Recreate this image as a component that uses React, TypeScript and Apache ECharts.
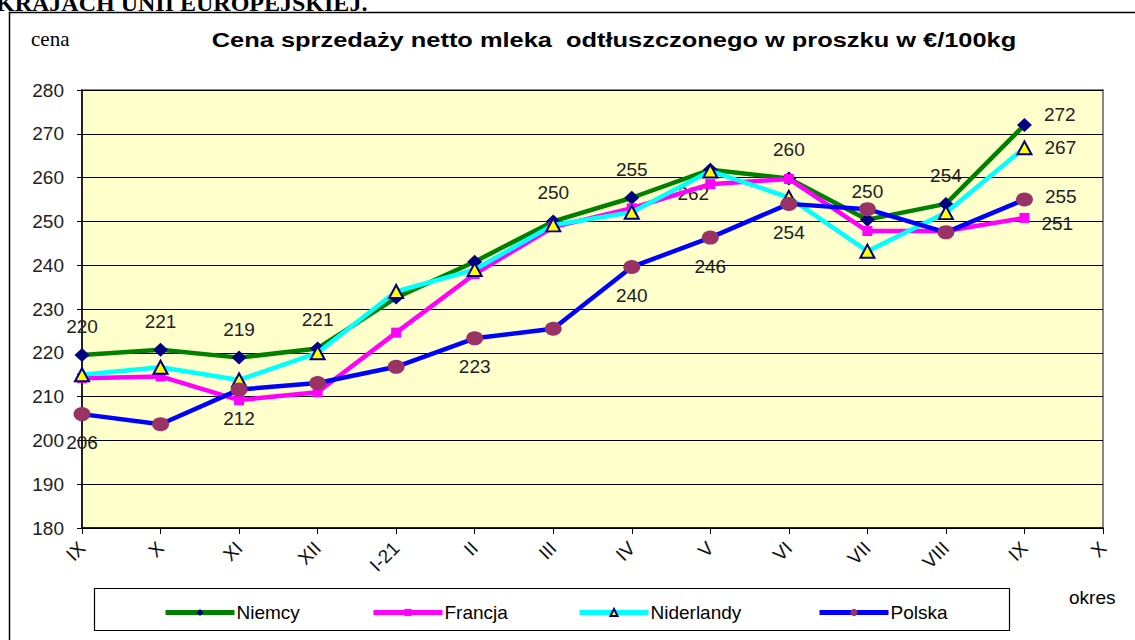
import React, { useEffect, useRef } from "react";
import * as echarts from "echarts";

const categories = ["IX", "X", "XI", "XII", "I-21", "II", "III", "IV", "V", "VI", "VII", "VIII", "IX", "X"];
const niemcy = [219.5, 220.7, 218.9, 221, 232.6, 240.8, 250, 255.4, 261.8, 259.8, 250.4, 254, 272];
const francja = [214.2, 214.6, 209.2, 211, 224.6, 238, 248.7, 253, 258.5, 259.7, 247.8, 247.8, 250.8];
const niderlandy = [215, 216.7, 213.8, 220, 234, 239, 249.2, 252.1, 261.5, 255.5, 243.2, 252, 266.8];
const polska = [206, 203.7, 211.6, 213.1, 216.8, 223.3, 225.5, 239.6, 246.3, 254, 252.8, 247.5, 255];
const seriesNames = ["Niemcy", "Francja", "Niderlandy", "Polska"];
const yTicks = { min: 180, max: 280, interval: 10 };
const titleText = "Cena sprzedaży netto mleka  odtłuszczonego w proszku w €/100kg";
const headerText = "KRAJACH UNII EUROPEJSKIEJ.";

// label placements: "t" above, "b" below, "bl" below-left, "r" right, "" none
const niemcyLabels = ["t", "t", "t", "t", "", "", "t", "t", "bl", "t", "t", "t", "r"];
const francjaLabels = ["", "", "", "", "", "", "", "", "", "", "", "", "r"];
const niderlandyLabels = ["", "", "", "", "", "", "", "", "", "", "", "", "r"];
const polskaLabels = ["b", "", "b", "", "", "b", "", "b", "b", "b", "", "", "r"];
const rightOffsets: Record<string, number> = { Niemcy: -11, Francja: 6, Niderlandy: 0, Polska: -3 };
const legendLefts = [158, 366, 572, 812];

const labelFont = { fontFamily: "Liberation Sans, Arial", fontSize: 19, color: "#222" };

function mkData(values: number[], places: string[], name: string) {
  return values.map((v, i) => {
    const p = places[i];
    if (!p) return { value: v, label: { show: false } };
    let label: any = { show: true, ...labelFont, formatter: (o: any) => String(Math.round(o.value)) };
    if (p === "t") label = { ...label, position: "top", distance: 12 };
    if (p === "b") label = { ...label, position: "bottom", distance: 12 };
    if (p === "bl") label = { ...label, position: "bottom", distance: 7, offset: [-17, 0] };
    if (p === "r") label = { ...label, position: "right", distance: 12, offset: [0, rightOffsets[name]] };
    return { value: v, label };
  });
}

export default function App() {
  const ref = useRef<HTMLDivElement>(null);
  useEffect(() => {
    document.body.style.margin = "0";
    const chart = echarts.init(ref.current!, null, { renderer: "svg" });
    chart.setOption({
      animation: false,
      backgroundColor: "#ffffff",
      textStyle: { fontFamily: "Liberation Sans, Arial" },
      grid: { left: 82, top: 90, width: 1021, height: 438, show: true, backgroundColor: "#FFFFCC", borderColor: "#888", borderWidth: 2 },
      graphic: [
        { type: "rect", shape: { x: 9.5, y: 12.5, width: 1200, height: 700 }, style: { fill: "none", stroke: "#000", lineWidth: 1.5 }, z: -1 },
        { type: "text", x: -4, y: 15, style: { text: headerText, font: 'bold 24px "Liberation Serif", serif', fill: "#000", verticalAlign: "bottom" } },
        { type: "text", x: 31, y: 39, style: { text: "cena", font: '21px "Liberation Serif", serif', fill: "#000", verticalAlign: "middle" } },
        { type: "text", x: 614, y: 40, scaleX: 1.27, style: { text: titleText, font: 'bold 20px "Liberation Sans", Arial', fill: "#000", align: "center", verticalAlign: "middle" } },
        { type: "text", x: 1069, y: 597, style: { text: "okres", font: '19px "Liberation Sans", Arial', fill: "#000", verticalAlign: "middle" } },
        { type: "rect", shape: { x: 94.5, y: 588.5, width: 915, height: 42 }, style: { fill: "none", stroke: "#000", lineWidth: 1.2 } },
      ],
      legend: seriesNames.map((n, i) => ({
        left: legendLefts[i], top: 598, itemWidth: 69, itemHeight: 9, itemGap: 4,
        lineStyle: { width: 5 },
        textStyle: { fontFamily: "Liberation Sans, Arial", fontSize: 19, color: "#000", padding: [0, 0, 0, -3] },
        data: [n],
      })),
      xAxis: {
        type: "category", data: categories, boundaryGap: false,
        axisLine: { lineStyle: { color: "#000", width: 1.5 } },
        axisTick: { show: true, length: 6, lineStyle: { color: "#000" } },
        axisLabel: { rotate: 45, interval: 0, fontSize: 19, color: "#111", margin: 17, fontFamily: "Liberation Sans, Arial" },
        splitLine: { show: false },
      },
      yAxis: {
        type: "value", min: yTicks.min, max: yTicks.max, interval: yTicks.interval,
        axisLine: { show: true, lineStyle: { color: "#000", width: 1.5 } },
        axisTick: { show: true, length: 5, lineStyle: { color: "#000" } },
        axisLabel: { fontSize: 19, color: "#222", margin: 18, fontFamily: "Liberation Sans, Arial" },
        splitLine: { show: true, lineStyle: { color: "#000", width: 1 } },
      },
      series: [
        {
          name: "Niemcy", type: "line", data: mkData(niemcy, niemcyLabels, "Niemcy"),
          lineStyle: { color: "#008000", width: 4.5 }, itemStyle: { color: "#000080" },
          symbol: "diamond", symbolSize: [15, 14], z: 2,
        },
        {
          name: "Francja", type: "line", data: mkData(francja, francjaLabels, "Francja"),
          lineStyle: { color: "#FF00FF", width: 4.5 }, itemStyle: { color: "#FF00FF" },
          symbol: "rect", symbolSize: 10, z: 3,
        },
        {
          name: "Niderlandy", type: "line", data: mkData(niderlandy, niderlandyLabels, "Niderlandy"),
          lineStyle: { color: "#00FFFF", width: 4.5 }, itemStyle: { color: "#FFFF00", borderColor: "#000080", borderWidth: 2 },
          symbol: "triangle", symbolSize: [14, 13], z: 4,
        },
        {
          name: "Polska", type: "line", data: mkData(polska, polskaLabels, "Polska"),
          lineStyle: { color: "#0000FF", width: 4.5 }, itemStyle: { color: "#993366" },
          symbol: "circle", symbolSize: [17, 14], z: 5,
        },
      ],
    });
    return () => chart.dispose();
  }, []);
  return <div ref={ref} style={{ position: "fixed", left: 0, top: 0, width: 1135, height: 640 }} />;
}
